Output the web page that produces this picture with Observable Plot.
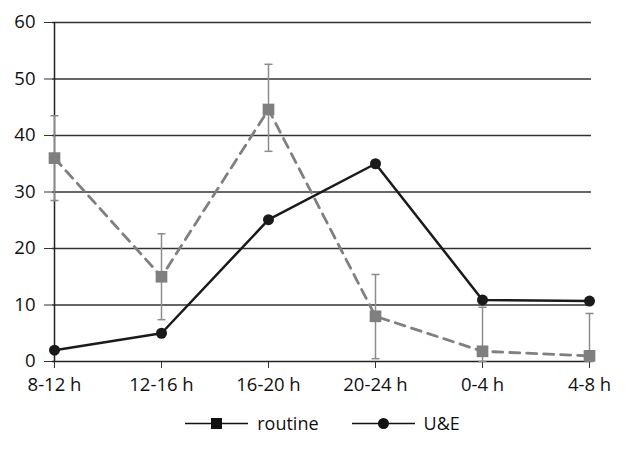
<!DOCTYPE html>
<html>
<head>
<meta charset="utf-8">
<script src="https://cdn.jsdelivr.net/npm/d3@7"></script>
<script src="https://cdn.jsdelivr.net/npm/@observablehq/plot@0.6"></script>
<style>
  body { margin: 0; background: #fff; font-family: "Open Sans", sans-serif; }
  #chart svg text { font-size: 18.5px; fill: #111; }
  #legend { display: flex; justify-content: center; align-items: center; gap: 33px; font-size: 18px; color: #111; margin-top: 11px; padding-left: 14px; }
  .item { display: flex; align-items: center; gap: 9px; }
</style>
</head>
<body>
<div id="chart"></div>
<div id="legend"></div>
<script>
const categories = ["8-12 h", "12-16 h", "16-20 h", "20-24 h", "0-4 h", "4-8 h"];
const routine = [36, 15, 44.6, 8, 1.8, 1];
const routineHigh = [43.5, 22.6, 52.6, 15.4, 9.6, 8.5];
const routineLow = [28.5, 7.4, 37.2, 0.5, 0, 0];
const ue = [2, 5, 25.1, 35, 10.9, 10.7];
const yTicks = [0, 10, 20, 30, 40, 50, 60];

const rData = categories.map((c, i) => ({cat: c, v: routine[i], hi: routineHigh[i], lo: routineLow[i]}));
const uData = categories.map((c, i) => ({cat: c, v: ue[i]}));

const capSymbol = {
  draw(context, size) {
    const w = 4;
    context.moveTo(-w, 0);
    context.lineTo(w, 0);
  }
};

const plot = Plot.plot({
  width: 631,
  height: 400,
  marginLeft: 52,
  marginRight: 40,
  marginTop: 22,
  marginBottom: 39,
  style: {fontFamily: "Open Sans, sans-serif", fontSize: "18px", color: "#111"},
  x: {type: "point", domain: categories, padding: 0, label: null},
  y: {domain: [0, 60], ticks: yTicks, label: null},
  marks: [
    Plot.gridY(yTicks.filter(d => d > 0), {stroke: "#333", strokeOpacity: 1, strokeWidth: 1.5}),
    Plot.axisY({ticks: yTicks, tickSize: 8, tickPadding: 9, stroke: "#333", label: null}),
    Plot.axisX({tickSize: 7, tickPadding: 9, stroke: "#333", label: null}),
    Plot.ruleX([categories[0]], {y1: 0, y2: 60, stroke: "#222", strokeWidth: 1.5}),
    Plot.ruleY([0], {stroke: "#222", strokeWidth: 1.5}),
    Plot.ruleX(rData, {x: "cat", y1: "lo", y2: "hi", stroke: "#8c8c8c", strokeWidth: 1.5}),
    Plot.dot(rData, {x: "cat", y: "hi", symbol: capSymbol, r: 4, stroke: "#8c8c8c", fill: "none", strokeWidth: 1.5}),
    Plot.dot(rData, {x: "cat", y: "lo", symbol: capSymbol, r: 4, stroke: "#8c8c8c", fill: "none", strokeWidth: 1.5}),
    Plot.line(rData, {x: "cat", y: "v", stroke: "#808080", strokeWidth: 2.8, strokeDasharray: "10,7"}),
    Plot.dot(rData, {x: "cat", y: "v", symbol: "square", r: 6.6, fill: "#7f7f7f", stroke: "none"}),
    Plot.line(uData, {x: "cat", y: "v", stroke: "#1a1a1a", strokeWidth: 2.5}),
    Plot.dot(uData, {x: "cat", y: "v", symbol: "circle", r: 5.5, fill: "#1a1a1a", stroke: "none"})
  ]
});
document.getElementById("chart").appendChild(plot);

const legendItems = [
  {label: "routine", shape: "square"},
  {label: "U&E", shape: "circle"}
];
const legend = document.getElementById("legend");
legendItems.forEach(it => {
  const div = document.createElement("div");
  div.className = "item";
  const icon = it.shape === "square"
    ? '<rect x="26" y="5" width="11" height="11" fill="#111"/>'
    : '<circle cx="31.5" cy="10.5" r="5.5" fill="#111"/>';
  div.innerHTML = `<svg width="63" height="21"><line x1="0" x2="63" y1="10.5" y2="10.5" stroke="#111" stroke-width="1.5"/>${icon}</svg><span>${it.label}</span>`;
  legend.appendChild(div);
});
</script>
</body>
</html>
